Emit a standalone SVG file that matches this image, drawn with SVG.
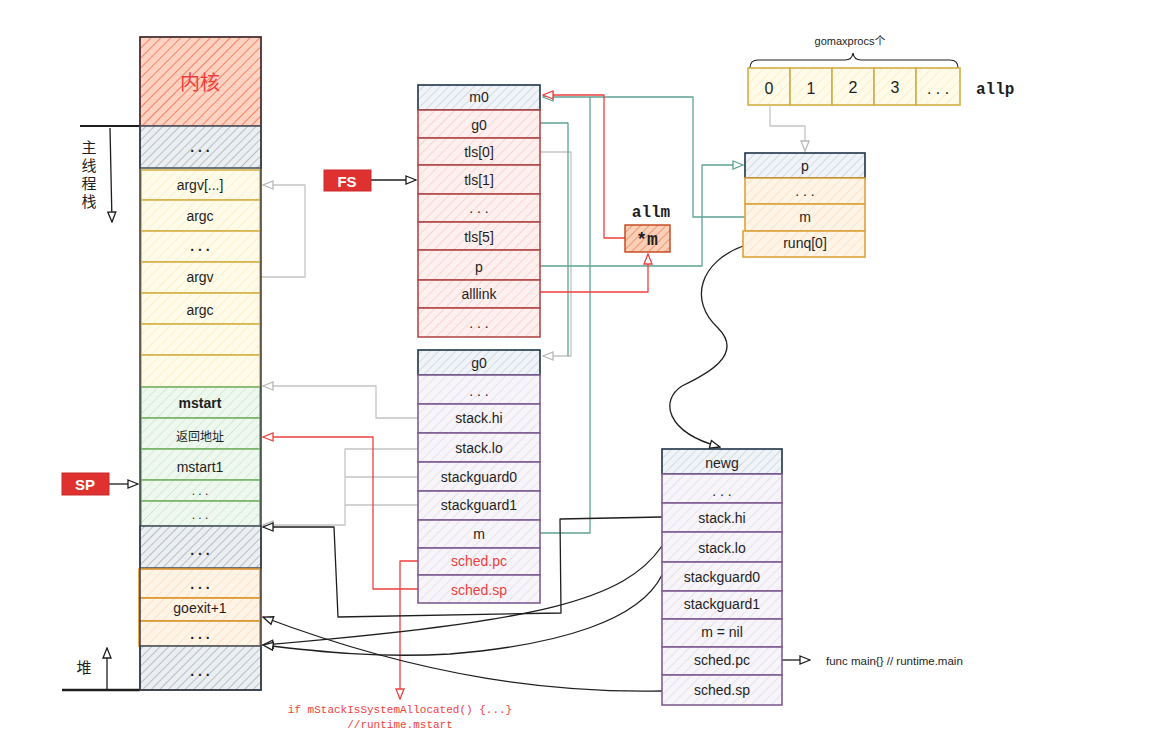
<svg xmlns="http://www.w3.org/2000/svg" width="1151" height="752" viewBox="0 0 1151 752">
<style>
.t{font-family:"Liberation Sans","Noto Sans CJK SC",sans-serif;font-size:14px;fill:#1e1e1e;text-anchor:middle;dominant-baseline:central}
.s{font-size:12px}
.b{font-weight:bold}
.m{font-family:"Liberation Mono","DejaVu Sans Mono",monospace;font-weight:bold;fill:#1e1e1e;dominant-baseline:central}
.red{fill:#f03e3e}
.cell{stroke-width:1.6}
.c{fill:none;stroke-width:1.3;stroke-linejoin:round}
.k{stroke:#1e1e1e}
.g{stroke:#c4c4c4}
.tl{stroke:#5fa392}
.r{stroke:#f03e3e}
</style>
<defs>
<pattern id="hKern" width="7" height="7" patternUnits="userSpaceOnUse" patternTransform="rotate(45)"><rect width="7" height="7" fill="#ffd2c2"/><line x1="0" y1="0" x2="0" y2="7" stroke="#f26a45" stroke-width="1.5"/></pattern>
<pattern id="hGray" width="6" height="6" patternUnits="userSpaceOnUse" patternTransform="rotate(45)"><rect width="6" height="6" fill="#eceff2"/><line x1="0" y1="0" x2="0" y2="6" stroke="#8d96a0" stroke-width="1.1"/></pattern>
<pattern id="hYel" width="7" height="7" patternUnits="userSpaceOnUse" patternTransform="rotate(45)"><rect width="7" height="7" fill="#fffbea"/><line x1="0" y1="0" x2="0" y2="7" stroke="#fbe9b0" stroke-width="1.2"/></pattern>
<pattern id="hGrn" width="7" height="7" patternUnits="userSpaceOnUse" patternTransform="rotate(45)"><rect width="7" height="7" fill="#eef8ef"/><line x1="0" y1="0" x2="0" y2="7" stroke="#c3e2c4" stroke-width="1.2"/></pattern>
<pattern id="hOra" width="7" height="7" patternUnits="userSpaceOnUse" patternTransform="rotate(45)"><rect width="7" height="7" fill="#fff4e8"/><line x1="0" y1="0" x2="0" y2="7" stroke="#ffd6ad" stroke-width="1.2"/></pattern>
<pattern id="hPink" width="7" height="7" patternUnits="userSpaceOnUse" patternTransform="rotate(45)"><rect width="7" height="7" fill="#fff0f0"/><line x1="0" y1="0" x2="0" y2="7" stroke="#f6c0c0" stroke-width="1.2"/></pattern>
<pattern id="hBlue" width="6" height="6" patternUnits="userSpaceOnUse" patternTransform="rotate(45)"><rect width="6" height="6" fill="#f0f3f7"/><line x1="0" y1="0" x2="0" y2="6" stroke="#bcc7d2" stroke-width="1.1"/></pattern>
<pattern id="hPur" width="7" height="7" patternUnits="userSpaceOnUse" patternTransform="rotate(45)"><rect width="7" height="7" fill="#f7f5f9"/><line x1="0" y1="0" x2="0" y2="7" stroke="#ddd5e3" stroke-width="1.2"/></pattern>
<pattern id="hM" width="6" height="6" patternUnits="userSpaceOnUse" patternTransform="rotate(45)"><rect width="6" height="6" fill="#fbd0b8"/><line x1="0" y1="0" x2="0" y2="6" stroke="#e8784a" stroke-width="1.3"/></pattern>
<marker id="ak" viewBox="0 0 12 10" refX="11" refY="5" markerWidth="12" markerHeight="10" markerUnits="userSpaceOnUse" orient="auto"><path d="M1,1 L11,5 L1,9 Z" fill="#fff" stroke="#1e1e1e" stroke-width="1.3"/></marker>
<marker id="ag" viewBox="0 0 12 10" refX="11" refY="5" markerWidth="12" markerHeight="10" markerUnits="userSpaceOnUse" orient="auto"><path d="M1,1 L11,5 L1,9 Z" fill="#fff" stroke="#b8b8b8" stroke-width="1.3"/></marker>
<marker id="at" viewBox="0 0 12 10" refX="11" refY="5" markerWidth="12" markerHeight="10" markerUnits="userSpaceOnUse" orient="auto"><path d="M1,1 L11,5 L1,9 Z" fill="#fff" stroke="#5fa392" stroke-width="1.3"/></marker>
<marker id="ar" viewBox="0 0 12 10" refX="11" refY="5" markerWidth="12" markerHeight="10" markerUnits="userSpaceOnUse" orient="auto"><path d="M1,1 L11,5 L1,9 Z" fill="#fff" stroke="#f03e3e" stroke-width="1.3"/></marker>
</defs>
<rect width="1151" height="752" fill="#fff"/>

<g id="connectors">
<path class="c g" d="M261,277 L305,277 L305,185 L263,185" marker-end="url(#ag)"/>
<path class="c g" d="M540,152 L571,152 L571,356 L543,356" marker-end="url(#ag)"/>
<path class="c g" d="M418,418 L376,418 L376,386 L263,386" marker-end="url(#ag)"/>
<path class="c g" d="M418,449 L345,449 L345,525 L263,525" marker-end="url(#ag)"/>
<path class="c g" d="M418,477 L345,477 M418,505 L345,505"/>
<path class="c g" d="M770,106 L770,126 L805,126 L805,151" marker-end="url(#ag)"/>
<path class="c tl" d="M540,123 L568,123 L568,356"/>
<path class="c tl" d="M540,533 L590,533 L590,97"/>
<path class="c tl" d="M745,217 L693,217 L693,97 L543,97" marker-end="url(#at)"/>
<path class="c tl" d="M540,266 L702,266 L702,165 L743,165" marker-end="url(#at)"/>
<path class="c r" d="M625,238 L604,238 L604,95 L543,95" marker-end="url(#ar)"/>
<path class="c r" d="M540,292 L648,292 L648,254" marker-end="url(#ar)"/>
<path class="c r" d="M418,561 L400,561 L400,699" marker-end="url(#ar)"/>
<path class="c r" d="M418,589 L373,589 L373,437 L263,437" marker-end="url(#ar)"/>
<path class="c k" d="M371,180 L416,180" marker-end="url(#ak)"/>
<path class="c k" d="M109,484 L138,484" marker-end="url(#ak)"/>
<path class="c k" d="M662,517 L560,519 L561,613 L338,617 L334,527 L263,527" marker-end="url(#ak)"/>
<path class="c k" d="M662,546 C625,600 540,622 263,645" marker-end="url(#ak)"/>
<path class="c k" d="M662,575 C640,620 560,645 450,654 C380,658 320,652 263,645" marker-end="url(#ak)"/>
<path class="c k" d="M662,691 C560,693 430,680 263,617" marker-end="url(#ak)"/>
<path class="c k" d="M743,246 C700,262 688,300 718,328 C745,355 705,375 682,386 C660,400 665,432 720,447" marker-end="url(#ak)"/>
<path class="c k" d="M782,660 L810,660" marker-end="url(#ak)"/>
</g>

<g id="main-stack-label">
<path d="M80,126 L140,126" stroke="#1e1e1e" stroke-width="2"/>
<path class="c k" d="M110,128 L112,222" marker-end="url(#ak)"/>
<text class="t" x="89" y="147" style="font-size:15px">主</text>
<text class="t" x="89" y="165" style="font-size:15px">线</text>
<text class="t" x="89" y="183" style="font-size:15px">程</text>
<text class="t" x="89" y="201" style="font-size:15px">栈</text>
</g>
<g id="heap-label">
<path d="M62,690 L140,690" stroke="#1e1e1e" stroke-width="2.5"/>
<path class="c k" d="M107,689 L107,648" marker-end="url(#ak)"/>
<text class="t" x="84" y="667" style="font-size:15px">堆</text>
</g>

<g id="stack-column">
<rect class="cell" x="140" y="37" width="121" height="89" fill="url(#hKern)" stroke="#c0392b"/>
<text class="t red" x="200" y="83" style="font-size:20px">内核</text>
<rect class="cell" x="140" y="126" width="121" height="42" fill="url(#hGray)" stroke="#4a5560"/>
<text class="t b" x="200" y="147">. . .</text>
<g stroke="#d8b24a" class="cell">
<rect x="141" y="170" width="119" height="30" fill="url(#hYel)"/>
<rect x="141" y="200" width="119" height="31" fill="url(#hYel)"/>
<rect x="141" y="231" width="119" height="31" fill="url(#hYel)"/>
<rect x="141" y="262" width="119" height="31" fill="url(#hYel)"/>
<rect x="141" y="293" width="119" height="31" fill="url(#hYel)"/>
<rect x="141" y="324" width="119" height="31" fill="url(#hYel)"/>
<rect x="141" y="355" width="119" height="32" fill="url(#hYel)"/>
</g>
<text class="t" x="200" y="185">argv[...]</text>
<text class="t" x="200" y="216">argc</text>
<text class="t b" x="200" y="246">. . .</text>
<text class="t" x="200" y="277">argv</text>
<text class="t" x="200" y="310">argc</text>
<g stroke="#78b36a" class="cell">
<rect x="141" y="387" width="119" height="31" fill="url(#hGrn)"/>
<rect x="141" y="418" width="119" height="31" fill="url(#hGrn)"/>
<rect x="141" y="449" width="119" height="31" fill="url(#hGrn)"/>
<rect x="141" y="480" width="119" height="21" fill="url(#hGrn)"/>
<rect x="141" y="501" width="119" height="25" fill="url(#hGrn)"/>
</g>
<text class="t b" x="200" y="403">mstart</text>
<text class="t s" x="200" y="437">返回地址</text>
<text class="t" x="200" y="467">mstart1</text>
<text class="t s" x="200" y="491">. . .</text>
<text class="t s" x="200" y="515">. . .</text>
<rect class="cell" x="140" y="526" width="121" height="42" fill="url(#hGray)" stroke="#4a5560"/>
<text class="t b" x="200" y="550">. . .</text>
<g stroke="#e0962e" class="cell">
<rect x="139" y="569" width="121" height="29" fill="url(#hOra)"/>
<rect x="139" y="598" width="121" height="23" fill="url(#hOra)"/>
<rect x="139" y="621" width="121" height="25" fill="url(#hOra)"/>
</g>
<text class="t b" x="200" y="584">. . .</text>
<text class="t" x="200" y="608">goexit+1</text>
<text class="t b" x="200" y="634">. . .</text>
<rect class="cell" x="140" y="646" width="121" height="44" fill="url(#hGray)" stroke="#4a5560"/>
<text class="t b" x="200" y="671">. . .</text>
<rect x="140" y="37" width="121" height="653" fill="none" stroke="#343a40" stroke-width="1.5"/>
</g>

<g id="FS">
<rect x="324" y="170" width="47" height="21" fill="#e03131" stroke="#c92a2a"/>
<text class="t b" x="347" y="181" style="fill:#fff;font-size:15px">FS</text>
</g>
<g id="SP">
<rect x="62" y="473" width="47" height="22" fill="#e03131" stroke="#c92a2a"/>
<text class="t b" x="85" y="484" style="fill:#fff;font-size:15px">SP</text>
</g>

<g id="m0">
<rect class="cell" x="418" y="85" width="122" height="25" fill="url(#hBlue)" stroke="#1f3447"/>
<g stroke="#b34a4a" class="cell">
<rect x="418" y="110" width="122" height="28" fill="url(#hPink)"/>
<rect x="418" y="138" width="122" height="27" fill="url(#hPink)"/>
<rect x="418" y="165" width="122" height="29" fill="url(#hPink)"/>
<rect x="418" y="194" width="122" height="28" fill="url(#hPink)"/>
<rect x="418" y="222" width="122" height="28" fill="url(#hPink)"/>
<rect x="418" y="250" width="122" height="30" fill="url(#hPink)"/>
<rect x="418" y="280" width="122" height="28" fill="url(#hPink)"/>
<rect x="418" y="308" width="122" height="29" fill="url(#hPink)"/>
</g>
<text class="t" x="479" y="97">m0</text>
<text class="t" x="479" y="125">g0</text>
<text class="t" x="479" y="152">tls[0]</text>
<text class="t" x="479" y="180">tls[1]</text>
<text class="t" x="479" y="208">. . .</text>
<text class="t" x="479" y="237">tls[5]</text>
<text class="t" x="479" y="267">p</text>
<text class="t" x="479" y="294">alllink</text>
<text class="t" x="479" y="323">. . .</text>
</g>

<g id="g0">
<rect class="cell" x="418" y="350" width="122" height="25" fill="url(#hBlue)" stroke="#1f3447"/>
<g stroke="#7d5e93" class="cell">
<rect x="418" y="375" width="122" height="29" fill="url(#hPur)"/>
<rect x="418" y="404" width="122" height="29" fill="url(#hPur)"/>
<rect x="418" y="433" width="122" height="29" fill="url(#hPur)"/>
<rect x="418" y="462" width="122" height="29" fill="url(#hPur)"/>
<rect x="418" y="491" width="122" height="29" fill="url(#hPur)"/>
<rect x="418" y="520" width="122" height="28" fill="url(#hPur)"/>
<rect x="418" y="548" width="122" height="27" fill="url(#hPur)"/>
<rect x="418" y="575" width="122" height="28" fill="url(#hPur)"/>
</g>
<text class="t" x="479" y="363">g0</text>
<text class="t" x="479" y="391">. . .</text>
<text class="t" x="479" y="418">stack.hi</text>
<text class="t" x="479" y="448">stack.lo</text>
<text class="t" x="479" y="477">stackguard0</text>
<text class="t" x="479" y="505">stackguard1</text>
<text class="t" x="479" y="534">m</text>
<text class="t red" x="479" y="561">sched.pc</text>
<text class="t red" x="479" y="590">sched.sp</text>
</g>

<g id="allp">
<path d="M750,68 Q750,60 758,60 L845,60 Q852,60 853,53 Q854,60 861,60 L950,60 Q958,60 958,68" fill="none" stroke="#1e1e1e" stroke-width="1.2"/>
<text class="t" x="850" y="41" style="font-size:11px">gomaxprocs个</text>
<g stroke="#d4ad45" class="cell">
<rect x="748" y="68" width="42" height="37" fill="url(#hYel)"/>
<rect x="790" y="68" width="42" height="37" fill="url(#hYel)"/>
<rect x="832" y="68" width="42" height="37" fill="url(#hYel)"/>
<rect x="874" y="68" width="42" height="37" fill="url(#hYel)"/>
<rect x="916" y="68" width="44" height="37" fill="url(#hYel)"/>
</g>
<text class="t" x="769" y="88" style="font-size:16px">0</text>
<text class="t" x="811" y="88" style="font-size:16px">1</text>
<text class="t" x="853" y="87" style="font-size:16px">2</text>
<text class="t" x="895" y="87" style="font-size:16px">3</text>
<text class="t" x="938" y="88" style="font-size:16px">. . .</text>
<text class="m" x="976" y="90" style="font-size:16px">allp</text>
</g>

<g id="p">
<rect class="cell" x="745" y="153" width="120" height="25" fill="url(#hBlue)" stroke="#1f3447"/>
<g stroke="#dca33a" class="cell">
<rect x="745" y="178" width="120" height="26" fill="url(#hOra)"/>
<rect x="745" y="204" width="120" height="27" fill="url(#hOra)"/>
<rect x="743" y="231" width="122" height="26" fill="url(#hOra)"/>
</g>
<text class="t" x="805" y="166">p</text>
<text class="t" x="805" y="191">. . .</text>
<text class="t" x="805" y="217">m</text>
<text class="t" x="805" y="243">runq[0]</text>
</g>

<g id="allm">
<text class="m" x="651" y="213" style="font-size:16px" text-anchor="middle">allm</text>
<rect x="625" y="225" width="45" height="27" fill="url(#hM)" stroke="#c4421a" stroke-width="1.4"/>
<text class="m" x="647" y="240" style="font-size:18px" text-anchor="middle">*m</text>
</g>

<g id="newg">
<rect class="cell" x="662" y="449" width="120" height="25" fill="url(#hBlue)" stroke="#1f3447"/>
<g stroke="#7d5e93" class="cell">
<rect x="662" y="474" width="120" height="29" fill="url(#hPur)"/>
<rect x="662" y="503" width="120" height="29" fill="url(#hPur)"/>
<rect x="662" y="532" width="120" height="30" fill="url(#hPur)"/>
<rect x="662" y="562" width="120" height="29" fill="url(#hPur)"/>
<rect x="662" y="591" width="120" height="28" fill="url(#hPur)"/>
<rect x="662" y="619" width="120" height="28" fill="url(#hPur)"/>
<rect x="662" y="647" width="120" height="28" fill="url(#hPur)"/>
<rect x="662" y="675" width="120" height="30" fill="url(#hPur)"/>
</g>
<text class="t" x="722" y="463">newg</text>
<text class="t" x="722" y="491">. . .</text>
<text class="t" x="722" y="518">stack.hi</text>
<text class="t" x="722" y="548">stack.lo</text>
<text class="t" x="722" y="577">stackguard0</text>
<text class="t" x="722" y="604">stackguard1</text>
<text class="t" x="722" y="632">m = nil</text>
<text class="t" x="722" y="660">sched.pc</text>
<text class="t" x="722" y="690">sched.sp</text>
</g>

<g id="labels">
<text class="t" x="826" y="661" style="font-size:11.5px;text-anchor:start">func main{} // runtime.main</text>
<text x="400" y="713" font-family="Liberation Mono, DejaVu Sans Mono, monospace" font-size="11" fill="#f03e3e" text-anchor="middle">if mStackIsSystemAllocated() {...}</text>
<text x="400" y="728" font-family="Liberation Mono, DejaVu Sans Mono, monospace" font-size="11" fill="#f03e3e" text-anchor="middle">//runtime.mstart</text>
</g>
</svg>
